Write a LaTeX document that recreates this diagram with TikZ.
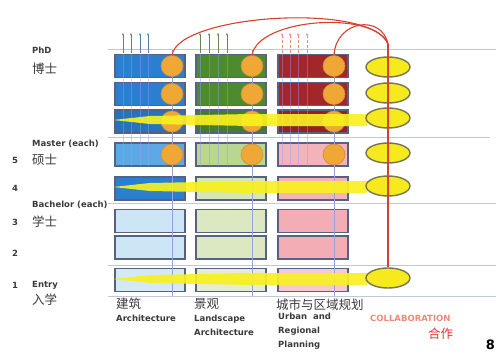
\documentclass[tikz,border=0pt]{standalone}
\usepackage{fontspec}
\setmainfont{DejaVu Sans}
\newfontfamily\cjk{Noto Sans CJK SC}
\usetikzlibrary{shapes.geometric,arrows.meta}

\definecolor{archphd}{HTML}{2A7FD0}
\definecolor{archma}{HTML}{5DA9E4}
\definecolor{archba}{HTML}{CDE6F5}
\definecolor{archen}{HTML}{D3EAF6}
\definecolor{landphd}{HTML}{4E8B2F}
\definecolor{landma}{HTML}{BAD78F}
\definecolor{landfour}{HTML}{D7E6B6}
\definecolor{landba}{HTML}{DCE8C2}
\definecolor{landen}{HTML}{E4EDD3}
\definecolor{urbphd}{HTML}{A3262B}
\definecolor{urbma}{HTML}{F2B3B9}
\definecolor{urbba}{HTML}{F3ADB4}
\definecolor{urben}{HTML}{F5C9CD}
\definecolor{boxedge}{HTML}{56627F}
\definecolor{dotfill}{HTML}{EFA836}
\definecolor{dotedge}{HTML}{C89040}
\definecolor{collabfill}{HTML}{F6EA1E}
\definecolor{collabedge}{HTML}{767552}
\definecolor{linkred}{HTML}{D8402E}
\definecolor{gridgray}{HTML}{BFC8D6}
\definecolor{labgray}{HTML}{3A3A3A}
\definecolor{streakyellow}{HTML}{F8F020}
\definecolor{salmon}{HTML}{EC8A78}
\definecolor{zhred}{HTML}{E8342C}

\begin{document}
\begin{tikzpicture}[x=1pt, y=-1pt,
		box/.style={draw=boxedge, line width=1.1pt, minimum width=70pt, minimum height=23pt, inner sep=0pt},
		dot/.style={ellipse, fill=dotfill, draw=dotedge, line width=0.6pt, minimum width=22pt, minimum height=21pt, inner sep=0pt},
		collab/.style={ellipse, fill=collabfill, draw=collabedge, line width=1.4pt, minimum width=44pt, minimum height=20pt, inner sep=0pt},
		link/.style={draw=linkred, line width=1.1pt},
		grid/.style={draw=gridgray, line width=0.9pt},
		guide/.style={draw=gridgray!80!blue, line width=0.5pt},
		stripe/.style={draw=white!60!blue, line width=0.6pt, opacity=0.45},
		up/.style={-{Stealth[length=2.5pt,width=2.2pt]}, line width=0.5pt},
		streak/.style={fill=streakyellow, opacity=0.92},
		lab/.style={font=\bfseries\fontsize{8.5}{10}\selectfont, text=labgray, anchor=west, inner sep=0pt, align=left},
		zh/.style={font=\cjk\fontsize{12.5}{14}\selectfont, text=labgray, anchor=west, inner sep=0pt}
	]
		\useasboundingbox (0,0) rectangle (496,354);

		% level lines
		\draw[grid] (108,49) -- (496,49);
		\draw[grid] (108,137) -- (490,137);
		\draw[grid] (108,203) -- (496,203);
		\draw[grid] (108,265) -- (496,265);
		\draw[grid] (108,296) -- (496,296);

		% architecture
		\draw (150,66) node [box, fill=archphd] (a1) {};
		\draw (150,94) node [box, fill=archphd] (a2) {};
		\draw (150,121.5) node [box, fill=archphd!90!black] (a3) {};
		\draw (150,154.5) node [box, fill=archma] (a4) {};
		\draw (150,188.5) node [box, fill=archphd] (a5) {};
		\draw (150,221) node [box, fill=archba] (a6) {};
		\draw (150,247.5) node [box, fill=archba] (a7) {};
		\draw (150,280) node [box, fill=archen] (a8) {};

		% landscape architecture
		\draw (231,66) node [box, fill=landphd] (l1) {};
		\draw (231,94) node [box, fill=landphd] (l2) {};
		\draw (231,121.5) node [box, fill=landphd!90!black] (l3) {};
		\draw (231,154.5) node [box, fill=landma] (l4) {};
		\draw (231,188.5) node [box, fill=landfour] (l5) {};
		\draw (231,221) node [box, fill=landba] (l6) {};
		\draw (231,247.5) node [box, fill=landba] (l7) {};
		\draw (231,280) node [box, fill=landen] (l8) {};

		% urban and regional planning
		\draw (313,66) node [box, fill=urbphd] (u1) {};
		\draw (313,94) node [box, fill=urbphd] (u2) {};
		\draw (313,121.5) node [box, fill=urbphd!90!black] (u3) {};
		\draw (313,154.5) node [box, fill=urbma] (u4) {};
		\draw (313,188.5) node [box, fill=urbma] (u5) {};
		\draw (313,221) node [box, fill=urbba] (u6) {};
		\draw (313,247.5) node [box, fill=urbba] (u7) {};
		\draw (313,280) node [box, fill=urben] (u8) {};

		% guides and stripes
		\foreach \x in {172,252,334} \draw[guide] (\x,50) -- (\x,296);
		\foreach \x in {123,131,140,148,200,209,218,227,282,290,298,307}
			\draw[stripe] (\x,54) -- (\x,166);

		% research points
		\draw (172,66) node [dot] (oa1) {};
		\draw (172,94) node [dot] (oa2) {};
		\draw (172,121.5) node [dot] (oa3) {};
		\draw (172,154.5) node [dot] (oa4) {};
		\draw (252,66) node [dot] (ol1) {};
		\draw (252,94) node [dot] (ol2) {};
		\draw (252,121.5) node [dot] (ol3) {};
		\draw (252,154.5) node [dot] (ol4) {};
		\draw (334,66) node [dot] (ou1) {};
		\draw (334,94) node [dot] (ou2) {};
		\draw (334,121.5) node [dot] (ou3) {};
		\draw (334,154.5) node [dot] (ou4) {};

		% shared studios
		\fill[streak] (113,120) -- (150,116) -- (250,114) -- (367,114) -- (367,126) -- (250,126) -- (150,124) -- cycle;
		\fill[streak] (113,187) -- (150,183) -- (250,181) -- (367,181) -- (367,193) -- (250,193) -- (150,191) -- cycle;
		\fill[streak] (113,279) -- (150,275) -- (250,273) -- (367,273) -- (367,285) -- (250,285) -- (150,283) -- cycle;

		% collaboration
		\draw (388,67) node [collab] (c1) {};
		\draw (388,93) node [collab] (c2) {};
		\draw (388,118) node [collab] (c3) {};
		\draw (388,153) node [collab] (c4) {};
		\draw (388,186) node [collab] (c5) {};
		\draw (388,278) node [collab] (c6) {};

		\coordinate (hub) at (388,44);
		\draw[link] (oa1.north) .. controls (178,14) and (372,2) .. (hub);
		\draw[link] (ol1.north) .. controls (258,18) and (375,10) .. (hub);
		\draw[link] (ou1.north) .. controls (336,20) and (382,14) .. (hub);
		\draw[link] (hub) -- (c6.north);

		% outputs
		\foreach \x in {123,131,140,148} \draw[up, draw=archphd!50!gray] (\x,53) -- (\x,33);
		\foreach \x in {200,209,218,227} \draw[up, draw=landphd!50!gray] (\x,53) -- (\x,33);
		\foreach \x in {282,290,298,307} \draw[up, draw=linkred!60!white, densely dashed] (\x,53) -- (\x,33);

		% levels
		\node[lab] (phd) at (32,50) {PhD};
		\node[zh] (phdzh) at (32,69) {博士};
		\node[lab] (ma) at (32,144) {Master (each)};
		\node[zh] (mazh) at (32,160) {硕士};
		\node[lab] (ba) at (32,205) {Bachelor (each)};
		\node[zh] (bazh) at (32,222) {学士};
		\node[lab] (en) at (32,285) {Entry};
		\node[zh] (enzh) at (32,300) {入学};
		\node[lab] (y5) at (12,160) {5};
		\node[lab] (y4) at (12,188) {4};
		\node[lab] (y3) at (12,222) {3};
		\node[lab] (y2) at (12,253) {2};
		\node[lab] (y1) at (12,285) {1};

		% disciplines
		\node[zh] (archzh) at (116,304) {建筑};
		\node[lab, anchor=north west] (arch) at (116,315) {Architecture};
		\node[zh] (landzh) at (194,304) {景观};
		\node[lab, anchor=north west] (land) at (194,315) {Landscape\\[4pt]Architecture};
		\node[zh] (urbzh) at (276,305) {城市与区域规划};
		\node[lab, anchor=north west] (urb) at (278,313) {Urban\ \ and\\[4pt]Regional\\[4pt]Planning};
		\node[lab, text=salmon] (co) at (370,318) {COLLABORATION};
		\node[zh, text=zhred] (cozh) at (428,334) {合作};
		\node[font=\bfseries\fontsize{13}{14}\selectfont, anchor=north east, inner sep=0pt] (pg) at (495,340) {8};
	\end{tikzpicture}
\end{document}
